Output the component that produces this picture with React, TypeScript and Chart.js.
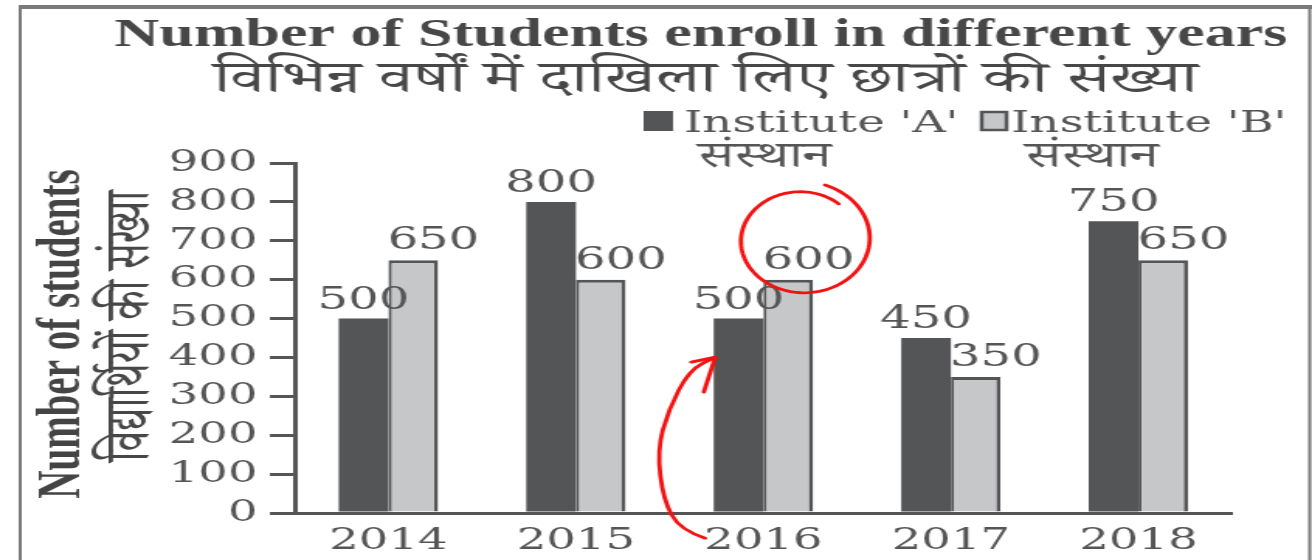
import React, { useEffect, useRef } from 'react';
import { Chart, registerables } from 'chart.js';

Chart.register(...registerables);

// ---------- data ----------
const years = ['2014', '2015', '2016', '2017', '2018'];
const instituteA = [500, 800, 500, 450, 750];
const instituteB = [650, 600, 600, 350, 650];
const yMin = 0;
const yMax = 900;
const yStep = 100;

const titleLine1 = 'Number of Students enroll in different years';
const titleLine2 = 'विभिन्न वर्षों में दाखिला लिए छात्रों की संख्या';
const legendLabels = ["Institute 'A'", "Institute 'B'"];
const legendSub = 'संस्थान';
const yTitle1 = 'Number of students';
const yTitle2 = 'विद्यार्थियों की संख्या';

// ---------- style ----------
const NATURAL_W = 846; // canvas drawn narrow and stretched to 1312 by CSS
const H = 560;
const DARK = '#545557';
const LIGHT = '#c6c7c9';
const TEXT = '#555555';
const RED = '#f21212';
const SERIF = "'DejaVu Serif', serif";
const BOLD_SERIF = "'Liberation Serif', serif";
const DEVA = "'Noto Serif Devanagari', 'Noto Sans Devanagari', 'Lohit Devanagari', 'FreeSerif', sans-serif";

const decorPlugin = {
  id: 'decor',
  afterDraw(chart: any) {
    const ctx = chart.ctx as CanvasRenderingContext2D;
    ctx.save();

    // frame
    ctx.strokeStyle = '#7a7a7a';
    ctx.lineWidth = 4;
    ctx.beginPath();
    ctx.moveTo(12, 7);
    ctx.lineTo(NATURAL_W, 7);
    ctx.stroke();
    ctx.lineWidth = 2;
    ctx.beginPath();
    ctx.moveTo(13, 7);
    ctx.lineTo(13, H);
    ctx.moveTo(844.5, 7);
    ctx.lineTo(844.5, H);
    ctx.stroke();

    // titles
    ctx.fillStyle = '#474747';
    ctx.textAlign = 'center';
    ctx.textBaseline = 'alphabetic';
    ctx.font = `bold 40px ${BOLD_SERIF}`;
    ctx.fillText(titleLine1, 452, 46);
    ctx.font = `44px ${DEVA}`;
    ctx.fillText(titleLine2, 455, 92);

    // legend
    ctx.fillStyle = DARK;
    ctx.fillRect(415, 111, 19, 20);
    ctx.fillStyle = LIGHT;
    ctx.fillRect(633, 112, 16, 18);
    ctx.strokeStyle = DARK;
    ctx.lineWidth = 2.5;
    ctx.strokeRect(633, 112, 16, 18);
    ctx.fillStyle = TEXT;
    ctx.textAlign = 'left';
    ctx.font = `30px ${SERIF}`;
    ctx.fillText(legendLabels[0], 441, 132);
    ctx.fillText(legendLabels[1], 652, 132);
    ctx.textAlign = 'center';
    ctx.font = `36px ${DEVA}`;
    ctx.fillText(legendSub, 493, 167);
    ctx.fillText(legendSub, 704, 167);

    // y-axis titles
    ctx.save();
    ctx.translate(51, 334);
    ctx.rotate(-Math.PI / 2);
    ctx.fillStyle = '#444444';
    ctx.font = `bold 39px ${BOLD_SERIF}`;
    ctx.fillText(yTitle1, 0, 0);
    ctx.restore();
    ctx.save();
    ctx.translate(96, 326);
    ctx.rotate(-Math.PI / 2);
    ctx.fillStyle = '#474747';
    ctx.font = `41px ${DEVA}`;
    ctx.fillText(yTitle2, 0, 0);
    ctx.restore();

    // data labels
    ctx.fillStyle = TEXT;
    ctx.font = `31px ${SERIF}`;
    ctx.textAlign = 'center';
    const metaA = chart.getDatasetMeta(0);
    const metaB = chart.getDatasetMeta(1);
    metaA.data.forEach((bar: any, i: number) => {
      ctx.fillText(String(instituteA[i]), bar.x, bar.y - 10);
    });
    metaB.data.forEach((bar: any, i: number) => {
      ctx.fillText(String(instituteB[i]), bar.x + 13, bar.y - 11);
    });

    // red hand-drawn annotations around 2016
    const idx = years.indexOf('2016');
    const bB = metaB.data[idx];
    const bA = metaA.data[idx];
    ctx.strokeStyle = RED;
    ctx.lineWidth = 2.8;
    ctx.lineCap = 'round';
    ctx.lineJoin = 'round';
    const cx = bB.x + 9;
    const cy = bB.y - 40;
    const a0 = (-50 * Math.PI) / 180;
    const sweep = (381 * Math.PI) / 180;
    ctx.beginPath();
    for (let k = 0; k <= 120; k++) {
      const t = k / 120;
      const a = a0 - sweep * t;
      const sc = 0.85 + 0.2 * t;
      const x = cx + 43 * sc * Math.cos(a);
      const y = cy + 55 * sc * Math.sin(a);
      if (k === 0) ctx.moveTo(x, y);
      else ctx.lineTo(x, y);
    }
    ctx.stroke();

    const tipX = bA.x - bA.width / 2 + 1;
    const tipY = bA.y + (bA.base - bA.y) * 0.2;
    const pts = [
      [-6.5, 181], [-22.6, 173], [-33.5, 143], [-37.4, 93], [-30.3, 53], [-16.8, 13], [0, 0],
    ].map(([dx, dy]) => [tipX + dx, tipY + dy]);
    ctx.beginPath();
    ctx.moveTo(pts[0][0], pts[0][1]);
    for (let k = 1; k < pts.length - 1; k++) {
      const mx = (pts[k][0] + pts[k + 1][0]) / 2;
      const my = (pts[k][1] + pts[k + 1][1]) / 2;
      ctx.quadraticCurveTo(pts[k][0], pts[k][1], mx, my);
    }
    ctx.lineTo(pts[pts.length - 1][0], pts[pts.length - 1][1]);
    ctx.stroke();
    ctx.beginPath();
    ctx.moveTo(tipX - 15.5, tipY + 5);
    ctx.lineTo(tipX, tipY);
    ctx.lineTo(tipX - 7.4, tipY + 35);
    ctx.stroke();

    ctx.restore();
  },
};

export default function App() {
  const ref = useRef<HTMLCanvasElement | null>(null);

  useEffect(() => {
    document.body.style.margin = '0';
    const canvas = ref.current;
    if (!canvas) return;
    const chart = new Chart(canvas, {
      type: 'bar',
      data: {
        labels: years,
        datasets: [
          {
            label: legendLabels[0],
            data: instituteA,
            backgroundColor: DARK,
            borderWidth: 0,
            barPercentage: 1,
            categoryPercentage: 0.53,
          },
          {
            label: legendLabels[1],
            data: instituteB,
            backgroundColor: LIGHT,
            borderColor: DARK,
            borderWidth: { top: 3, left: 2.2, right: 2.8, bottom: 0 },
            borderSkipped: false,
            barPercentage: 1,
            categoryPercentage: 0.53,
          },
        ],
      },
      options: {
        animation: false,
        responsive: false,
        devicePixelRatio: 1,
        layout: { padding: { left: 109, top: 163, right: 51.5, bottom: 0 } },
        plugins: {
          legend: { display: false },
          title: { display: false },
          tooltip: { enabled: false },
        },
        scales: {
          x: {
            grid: { display: false, drawTicks: false },
            border: { display: true, color: DARK, width: 3 },
            ticks: { font: { family: SERIF, size: 30 }, color: TEXT, padding: 10, autoSkip: false, maxRotation: 0 },
            afterFit: (s: any) => { s.height = 47; },
          },
          y: {
            min: yMin,
            max: yMax,
            ticks: {
              stepSize: yStep,
              autoSkip: false,
              font: { family: SERIF, size: 30, lineHeight: 1 },
              color: TEXT,
              padding: 8,
            },
            grid: { drawOnChartArea: false, drawTicks: true, tickLength: 16, tickColor: DARK, lineWidth: 3 },
            border: { display: true, color: DARK, width: 3 },
            afterFit: (s: any) => { s.width = 81; },
          },
        },
      },
      plugins: [decorPlugin],
    });
    return () => chart.destroy();
  }, []);

  return (
    <div style={{ width: 1312, height: H, background: '#fff' }}>
      <canvas
        ref={ref}
        width={NATURAL_W}
        height={H}
        style={{ width: '1312px', height: `${H}px`, display: 'block' }}
      />
    </div>
  );
}
